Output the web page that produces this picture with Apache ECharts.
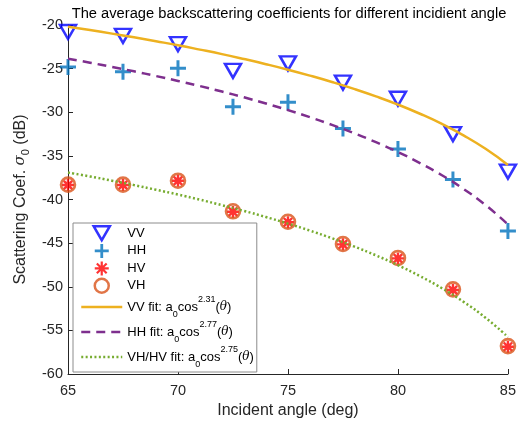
<!DOCTYPE html>
<html><head><meta charset="utf-8">
<script src="https://cdn.jsdelivr.net/npm/echarts@6/dist/echarts.min.js"></script>
<style>html,body{margin:0;padding:0;background:#fff}#c{width:519px;height:425px}</style>
</head><body><div id="c"></div>
<script>
// ---- data ----
const angles = [65, 67.5, 70, 72.5, 75, 77.5, 80, 82.5, 85];
const vv = [-20.8, -21.25, -22.2, -25.25, -24.4, -26.6, -28.45, -32.5, -36.8];
const hh = [-24.8, -25.35, -24.97, -29.36, -28.86, -31.85, -34.2, -37.7, -43.6];
const hv = [-38.34, -38.34, -37.85, -41.4, -42.6, -45.14, -46.75, -50.37, -56.87];
const vh = [-38.3, -38.3, -37.85, -41.35, -42.55, -45.1, -46.7, -50.3, -56.8];

const fitAngles = [65, 66, 67, 68, 69, 70, 71, 72, 73, 74, 75, 76, 77, 78, 79, 80, 81, 82, 83, 84, 85];
const vvFit = [-20.20, -20.58, -20.99, -21.41, -21.86, -22.32, -22.82, -23.34, -23.90, -24.49, -25.12, -25.80, -26.53, -27.32, -28.18, -29.12, -30.17, -31.34, -32.68, -34.22, -36.04];
const hhFit = [-23.86, -24.32, -24.81, -25.31, -25.85, -26.41, -27.00, -27.63, -28.29, -29.00, -29.76, -30.57, -31.45, -32.40, -33.43, -34.56, -35.82, -37.22, -38.82, -40.67, -42.85];
const xhFit = [-36.91, -37.36, -37.84, -38.35, -38.88, -39.43, -40.02, -40.65, -41.31, -42.01, -42.76, -43.57, -44.44, -45.38, -46.40, -47.53, -48.78, -50.17, -51.76, -53.59, -55.76];

const xTicks = [65, 70, 75, 80, 85];
const yTicks = [-60, -55, -50, -45, -40, -35, -30, -25, -20];

const fitExponents = {'VV fit': '2.31', 'HH fit': '2.77', 'VH/HV fit': '2.75'};

const FONT = '"Liberation Sans", Arial, Helvetica, sans-serif';
const C = {vv:'#0000FF', hh:'#0072BD', hv:'#FF0000', vh:'#D95319', vvf:'#EDB120', hhf:'#7E2F8E', xhf:'#77AC30'};

const triDown = 'path://M0,0L20,0L10,17.3Z';
const plus = 'path://M10,0L10,20M0,10L20,10';
const aster = 'path://M10,0L10,20M0,10L20,10M3,3L17,17M17,3L3,17';

function pairs(xs, ys){ return xs.map((x,i)=>[x, ys[i]]); }

const chart = echarts.init(document.getElementById('c'), null, {renderer:'canvas'});

const DASH = [9, 6];
const DOT = [2, 2.4];
const hideSym = {color: 'transparent', borderColor: 'transparent', borderWidth: 0, opacity: 0};

const option = {
  animation: false,
  backgroundColor: '#fff',
  title: {
    text: 'The average backscattering coefficients for different incidient angle',
    left: 289, top: 6, padding: 0, textAlign: 'center',
    textStyle: {fontFamily: FONT, fontSize: 14.7, fontWeight: 'normal', color: '#000'}
  },
  grid: {left: 68, right: 7, top: 25, bottom: 51, containLabel: false},
  xAxis: {
    type: 'value', min: 65, max: 85, interval: 5,
    name: 'Incident angle (deg)', nameLocation: 'middle', nameGap: 26,
    nameTextStyle: {fontFamily: FONT, fontSize: 16, color: '#262626'},
    axisLine: {show: true, lineStyle: {color: '#262626', width: 1}},
    axisTick: {show: true, inside: true, length: 5, lineStyle: {color: '#262626'}},
    axisLabel: {fontFamily: FONT, fontSize: 14.5, color: '#262626', margin: 9,
      formatter: v => xTicks.includes(v) ? String(v) : ''},
    splitLine: {show: false}
  },
  yAxis: {
    type: 'value', min: -60, max: -20, interval: 5,
    name: '{a|Scattering Coef. }{s|σ}{sub|0}{a| (dB)}',
    nameLocation: 'middle', nameGap: 33, nameRotate: 90,
    nameTextStyle: {fontFamily: FONT, fontSize: 16, color: '#262626',
      rich: {
        a: {fontFamily: FONT, fontSize: 16, color: '#262626', lineHeight: 22, verticalAlign: 'middle'},
        s: {fontFamily: '"DejaVu Serif", serif', fontStyle: 'italic', fontSize: 15, color: '#262626', lineHeight: 22, verticalAlign: 'middle'},
        sub: {fontFamily: FONT, fontSize: 11, color: '#262626', lineHeight: 13, verticalAlign: 'bottom'}
      }},
    axisLine: {show: true, lineStyle: {color: '#262626', width: 1}},
    axisTick: {show: true, inside: true, length: 5, lineStyle: {color: '#262626'}},
    axisLabel: {fontFamily: FONT, fontSize: 14.5, color: '#262626', margin: 5,
      formatter: v => yTicks.includes(v) ? String(v) : ''},
    splitLine: {show: false}
  },
  legend: {
    orient: 'vertical', left: 73, top: 223,
    padding: [2, 3, 3, 7],
    itemWidth: 41, itemHeight: 14, itemGap: 1,
    backgroundColor: '#fff', borderColor: '#8c8c8c', borderWidth: 1, borderRadius: 0,
    selectedMode: false,
    textStyle: {fontFamily: FONT, fontSize: 13, color: '#000',
      rich: {
        n: {fontFamily: FONT, fontSize: 13, color: '#000', lineHeight: 24, verticalAlign: 'middle'},
        sub: {fontFamily: FONT, fontSize: 9, color: '#000', lineHeight: 16, verticalAlign: 'bottom'},
        sup: {fontFamily: FONT, fontSize: 9, color: '#000', lineHeight: 14, verticalAlign: 'top'},
        th: {fontFamily: '"DejaVu Serif", serif', fontStyle: 'italic', fontSize: 12, color: '#000', lineHeight: 24, verticalAlign: 'middle'}
      }},
    formatter: function (name) {
      const e = fitExponents[name];
      if (!e) return name;
      const label = name.replace(' fit', ' fit: a');
      return '{n|' + label + '}{sub|0}{n|cos}{sup|' + e + '}{n|(}{th|θ}{n|)}';
    },
    data: [
      {name: 'VV', icon: triDown, itemStyle: {color: 'transparent', borderColor: C.vv, borderWidth: 2.5}},
      {name: 'HH', icon: plus, itemStyle: {color: 'transparent', borderColor: C.hh, borderWidth: 2.8}},
      {name: 'HV', icon: aster, itemStyle: {color: 'transparent', borderColor: C.hv, borderWidth: 2.2}},
      {name: 'VH', icon: 'circle', itemStyle: {color: 'transparent', borderColor: C.vh, borderWidth: 2.5}},
      {name: 'VV fit', itemStyle: hideSym, lineStyle: {color: C.vvf, width: 2.5, type: 'solid'}},
      {name: 'HH fit', itemStyle: hideSym, lineStyle: {color: C.hhf, width: 2.5, type: DASH}},
      {name: 'VH/HV fit', itemStyle: hideSym, lineStyle: {color: C.xhf, width: 2.5, type: DOT}}
    ]
  },
  series: [
    {name: 'VV', type: 'scatter', data: pairs(angles, vv), symbol: triDown, symbolSize: [16, 14], z: 2,
      itemStyle: {color: 'transparent', borderColor: C.vv, borderWidth: 2.5}},
    {name: 'HH', type: 'scatter', data: pairs(angles, hh), symbol: plus, symbolSize: 16, z: 2,
      itemStyle: {color: 'transparent', borderColor: C.hh, borderWidth: 3}},
    {name: 'HV', type: 'scatter', data: pairs(angles, hv), symbol: aster, symbolSize: 12, z: 2,
      itemStyle: {color: 'transparent', borderColor: C.hv, borderWidth: 2.4}},
    {name: 'VH', type: 'scatter', data: pairs(angles, vh), symbol: 'circle', symbolSize: 14, z: 2,
      itemStyle: {color: 'transparent', borderColor: C.vh, borderWidth: 2.6}},
    {name: 'VV fit', type: 'line', data: pairs(fitAngles, vvFit), smooth: true, symbol: 'none', z: 3,
      lineStyle: {color: C.vvf, width: 2.5, type: 'solid'}, itemStyle: {color: C.vvf}},
    {name: 'HH fit', type: 'line', data: pairs(fitAngles, hhFit), smooth: true, symbol: 'none', z: 3,
      lineStyle: {color: C.hhf, width: 2.5, type: DASH}, itemStyle: {color: C.hhf}},
    {name: 'VH/HV fit', type: 'line', data: pairs(fitAngles, xhFit), smooth: true, symbol: 'none', z: 3,
      lineStyle: {color: C.xhf, width: 2.5, type: DOT}, itemStyle: {color: C.xhf}}
  ]
};
chart.setOption(option);
</script>
</body></html>
